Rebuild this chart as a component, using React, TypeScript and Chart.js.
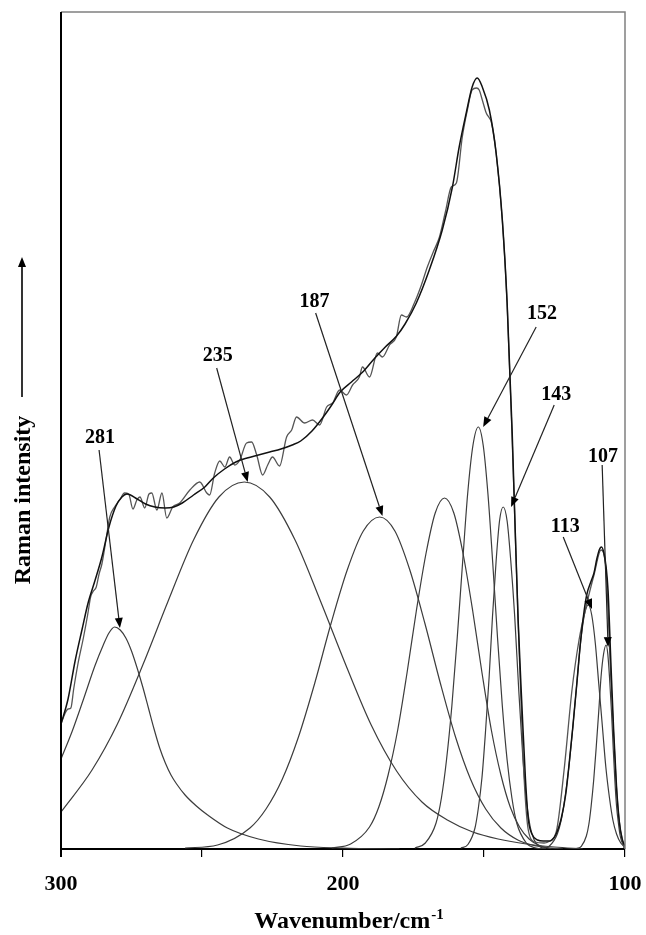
import React, { useEffect, useRef } from 'react';
import { Chart, registerables } from 'chart.js';

Chart.register(...registerables);

// ---- Data (wavenumber in cm-1, intensity in arbitrary units) ----
const SPECTRUM_W = [300, 298.5, 297.5, 296.5, 295.5, 294, 292, 290.5, 289.5, 288.5, 287.5, 286.5, 285.5, 284, 282.7, 281, 279, 277.5, 276,
  274.5, 273.1, 272.0, 270.3, 268.8, 267.8, 266.0, 264.2, 262.5, 260.4, 257.9, 254.3, 250.8, 248.3, 247.3, 245.5, 243.7, 241.9, 240.2,
  238.4, 236.6, 234.2, 232.4, 230.6, 228.5, 226.7, 225.0, 222.5, 220.0, 218.2, 216.5, 213.6, 210.8, 208.3, 205.8, 203.7, 201.2, 198.8,
  196.6, 194.2, 193.1, 190.6, 187.8, 186.0, 183.5, 181.1, 179.3, 177.5, 174.7, 172.2, 170.1, 168.0, 165.8, 163.7, 161.6, 159.8, 157.7,
  155.9, 154.2, 152.7, 151.7, 150.6, 149.2, 148.1, 147.4, 145.7, 143.5, 141.8, 140.0, 137.9, 136.1, 134.3, 131.9, 128.7, 127.3, 124.4,
  121.6, 118.8, 116.3, 113.5, 111.0, 108.5, 106.7, 105.0, 103.2, 102.1, 100.4];
const SPECTRUM_I = [125, 136, 140, 141, 160, 185, 212, 235, 252, 258, 262, 275, 285, 310, 332, 342, 350, 356, 355,
  340, 349, 352, 341, 355, 356, 339, 356, 331, 342, 346, 359, 367, 356, 354, 376, 388, 382, 392,
  384, 389, 406, 407, 394, 374, 384, 392, 383, 412, 419, 432, 426, 429, 424, 442, 446, 459, 454,
  464, 472, 482, 472, 496, 492, 504, 512, 534, 532, 546, 564, 582, 597, 612, 637, 662, 666, 712,
  739, 759, 761, 759, 749, 736, 731, 727, 696, 629, 546, 409, 229, 89, 19, 7, 6, 7, 17,
  79, 159, 209, 246, 274, 299, 277, 169, 69, 29, 1];

const FIT_W = [300, 297.5, 295, 292.5, 290.4, 288, 285.5, 283, 280.5, 278.4, 276.6, 273, 270, 266.7, 263, 260, 257, 253, 249, 246, 242,
  238, 234, 230, 226, 222, 218, 215, 211, 207, 204, 201, 197, 193, 189, 185, 181, 178, 174, 169.4, 164.8, 161.2, 158.8, 156.3, 154.2,
  152.4, 150.6, 148.1, 145.7, 143.5, 141.8, 140, 138.9, 137.9, 136.5, 135.3, 134.3, 133, 131, 129, 127.3, 126, 124.4, 122.5, 121, 120,
  118.5, 117, 115.75, 114.5, 113.5, 112, 111, 110, 109, 108.3, 107.5, 106.7, 106, 105, 104, 103, 102, 101, 100];
const FIT_I = [125, 150, 188, 220, 246, 268, 292, 322, 343, 352, 355, 350, 345, 342, 341, 342, 346, 354, 362, 371, 380,
  387, 391, 394, 397, 400, 404, 408, 418, 432, 444, 457, 467, 477, 490, 502, 513, 525, 546, 579, 619, 662, 702, 736, 762,
  771, 762, 739, 696, 629, 546, 416, 316, 229, 140, 70, 30, 15, 9, 8, 8, 9, 15, 32, 55, 80,
  122, 168, 208, 238, 255, 268, 276, 290, 300, 302, 296, 282, 258, 186, 117, 62, 27, 10, 3];

const P281_W = [300, 296, 292, 288, 285, 283, 281, 279, 277, 275, 273, 271, 269, 267, 265, 263, 261, 259, 256, 252, 248, 241, 230, 215, 200, 180];
const P281_I = [90, 118, 150, 183, 204, 216, 222, 219, 211, 198, 181, 162, 141, 120, 101, 86, 74, 65, 54, 43, 34, 21, 10, 3, 1, 0];

const P235_W = [300, 289, 280, 271, 262, 253, 244, 235, 226, 217, 208, 199, 190, 181, 172, 163, 154, 145, 135, 125, 115];
const P235_I = [37, 79, 125, 184, 248, 309, 352, 367, 352, 309, 248, 184, 124, 78, 47, 29, 17, 10, 5, 2, 0];

const P187_W = [256, 244.5, 233, 227.3, 221.5, 215.8, 210, 204.3, 198.5, 192.8, 187, 181.6, 176.3, 170.9, 165.5, 160.1, 154.8, 149.4, 144, 138, 133, 128, 122];
const P187_I = [1, 4, 21, 40, 70, 112, 166, 225, 279, 318, 332, 318, 279, 225, 166, 112, 70, 40, 21, 9, 4, 1.5, 0];

const P165_W = [204, 197.3, 190.6, 187.3, 184, 180.6, 177.3, 174, 170.6, 167.3, 164, 160.7, 157.4, 154, 150.7, 147.4, 144, 140.7, 137.4, 134, 130.7, 126];
const P165_I = [1, 5, 22, 42, 74, 119, 176, 238, 295, 336, 351, 336, 295, 238, 176, 119, 74, 42, 22, 10, 4, 0];

const P152_W = [174.5, 170.8, 167, 165.1, 163.3, 161.4, 159.5, 157.6, 155.8, 153.9, 152, 150.3, 148.6, 146.9, 145.2, 143.5, 141.8, 140.1, 138.4, 135, 131.6, 128];
const P152_I = [1, 6, 26, 51, 89, 143, 211, 286, 355, 404, 422, 404, 355, 286, 211, 143, 89, 51, 26, 6, 1, 0];

const P143_W = [158.2, 155.7, 153.2, 152, 150.7, 149.5, 148.2, 147, 145.7, 144.5, 143.2, 141.8, 140.5, 139.1, 137.7, 136.3, 135, 133.6, 132.2, 130, 128];
const P143_I = [1, 4.5, 21, 41, 72, 116, 171, 232, 288, 328, 342, 328, 288, 232, 160, 95, 50, 22, 9, 2, 0];

const P113_W = [129.5, 126.8, 124, 122.6, 121.3, 119.9, 118.5, 117.1, 115.8, 114.4, 113, 111.8, 110.5, 109.3, 108, 106.8, 105.5, 104.3, 103, 101.5, 100];
const P113_I = [0.5, 3, 15, 29, 51, 82, 122, 165, 205, 234, 244, 234, 205, 165, 122, 82, 51, 29, 15, 6, 2];

const P107_W = [117.2, 115.5, 113.7, 112.8, 112, 111.1, 110.2, 109.3, 108.5, 107.6, 106.7, 106.1, 105.5, 104.8, 104.2, 103.6, 103, 102.3, 101.7, 100.5, 100];
const P107_I = [0.4, 2.7, 13, 25, 43, 69, 102, 138, 172, 195, 204, 195, 172, 138, 102, 69, 43, 25, 13, 3, 1];

const X_TICK_LABELS = [300, 200, 100];

// Peak annotations (anchors in data coordinates)
const ANNOT_LABELS = ['281', '235', '187', '152', '143', '113', '107'];
const ANNOT_TEXT_W = [286.2, 244.4, 210.1, 129.4, 124.4, 121.2, 107.8];
const ANNOT_TEXT_I = [411, 493, 547, 535, 454, 322, 392];
const ANNOT_FROM_W = [286.5, 244.8, 209.7, 131.5, 125.1, 121.9, 108.1];
const ANNOT_FROM_I = [399, 481, 536, 522, 444, 312, 384];
const ANNOT_TIP_W = [279.1, 233.8, 186.0, 150.3, 140.4, 111.7, 106.0];
const ANNOT_TIP_I = [221, 367, 333, 422, 342, 240, 202];

const X_TITLE = 'Wavenumber/cm';
const X_TITLE_SUP = '-1';
const Y_TITLE = 'Raman intensity';

const SERIF = '"Liberation Serif", "Times New Roman", serif';

function xy(ws: number[], is: number[]) {
  return ws.map((w, i) => ({ x: w, y: is[i] }));
}

function arrow(ctx: CanvasRenderingContext2D, sx: number, sy: number, ex: number, ey: number) {
  const ang = Math.atan2(ey - sy, ex - sx);
  const hl = 10, hw = 4;
  const bx = ex - hl * Math.cos(ang), by = ey - hl * Math.sin(ang);
  ctx.beginPath();
  ctx.moveTo(sx, sy);
  ctx.lineTo(bx, by);
  ctx.stroke();
  ctx.beginPath();
  ctx.moveTo(ex, ey);
  ctx.lineTo(bx + hw * Math.sin(ang), by - hw * Math.cos(ang));
  ctx.lineTo(bx - hw * Math.sin(ang), by + hw * Math.cos(ang));
  ctx.closePath();
  ctx.fill();
}

const decorPlugin = {
  id: 'decor',
  afterDraw(chart: any) {
    const { ctx, chartArea: a, scales } = chart;
    const xs = scales.x, ys = scales.y;
    ctx.save();
    // frame: top and right grey
    ctx.strokeStyle = '#808080';
    ctx.lineWidth = 1.5;
    ctx.beginPath();
    ctx.moveTo(a.left, a.top);
    ctx.lineTo(a.right, a.top);
    ctx.lineTo(a.right, a.bottom);
    ctx.stroke();
    // left axis black
    ctx.strokeStyle = '#000';
    ctx.lineWidth = 2;
    ctx.beginPath();
    ctx.moveTo(a.left, a.top);
    ctx.lineTo(a.left, a.bottom + 8);
    ctx.stroke();

    // annotations
    ctx.fillStyle = '#000';
    ctx.strokeStyle = '#222';
    ctx.lineWidth = 1.2;
    ctx.font = `bold 20px ${SERIF}`;
    ctx.textAlign = 'center';
    ctx.textBaseline = 'middle';
    ANNOT_LABELS.forEach((lab, i) => {
      const tx = xs.getPixelForValue(ANNOT_TEXT_W[i]);
      const ty = ys.getPixelForValue(ANNOT_TEXT_I[i]);
      ctx.fillText(lab, tx, ty);
      arrow(ctx,
        xs.getPixelForValue(ANNOT_FROM_W[i]), ys.getPixelForValue(ANNOT_FROM_I[i]),
        xs.getPixelForValue(ANNOT_TIP_W[i]), ys.getPixelForValue(ANNOT_TIP_I[i]));
    });

    // x title with superscript
    ctx.textAlign = 'left';
    ctx.textBaseline = 'alphabetic';
    ctx.font = `bold 24px ${SERIF}`;
    const mainW = ctx.measureText(X_TITLE).width;
    ctx.font = `bold 15px ${SERIF}`;
    const supW = ctx.measureText(X_TITLE_SUP).width;
    const cx = (a.left + a.right) / 2 + 6;
    const x0 = cx - (mainW + supW + 1) / 2;
    const base = 928;
    ctx.font = `bold 24px ${SERIF}`;
    ctx.fillText(X_TITLE, x0, base);
    ctx.font = `bold 15px ${SERIF}`;
    ctx.fillText(X_TITLE_SUP, x0 + mainW + 1, base - 9);

    // y title rotated
    ctx.save();
    ctx.translate(29.5, 500);
    ctx.rotate(-Math.PI / 2);
    ctx.font = `bold 24px ${SERIF}`;
    ctx.textAlign = 'center';
    ctx.fillText(Y_TITLE, 0, 0);
    ctx.restore();

    // y-title arrow
    ctx.strokeStyle = '#000';
    ctx.fillStyle = '#000';
    ctx.lineWidth = 1.6;
    arrow(ctx, 22, 397, 22, 257);

    ctx.restore();
  },
};

export default function App() {
  const ref = useRef<HTMLCanvasElement | null>(null);

  useEffect(() => {
    if (!ref.current) return;
    const comp = (ws: number[], is: number[]) => ({
      data: xy(ws, is),
      borderColor: '#3c3c3c',
      borderWidth: 1.2,
      pointRadius: 0,
      fill: false,
      cubicInterpolationMode: 'monotone' as const,
    });
    const chart = new Chart(ref.current, {
      type: 'line',
      data: {
        datasets: [
          {
            data: xy(FIT_W, FIT_I),
            borderColor: '#111',
            borderWidth: 1.5,
            pointRadius: 0,
            fill: false,
            cubicInterpolationMode: 'monotone',
          },
          {
            data: xy(SPECTRUM_W, SPECTRUM_I),
            borderColor: '#555',
            borderWidth: 1.3,
            pointRadius: 0,
            fill: false,
            cubicInterpolationMode: 'monotone',
          },
          comp(P281_W, P281_I),
          comp(P235_W, P235_I),
          comp(P187_W, P187_I),
          comp(P165_W, P165_I),
          comp(P152_W, P152_I),
          comp(P143_W, P143_I),
          comp(P113_W, P113_I),
          comp(P107_W, P107_I),
        ],
      },
      options: {
        animation: false,
        responsive: false,
        devicePixelRatio: 1,
        layout: { padding: { left: 61, right: 21, top: 12, bottom: 0 } },
        plugins: { legend: { display: false }, tooltip: { enabled: false } },
        scales: {
          x: {
            type: 'linear',
            reverse: true,
            min: 100,
            max: 300,
            afterFit: (s: any) => { s.height = 86; s.paddingLeft = 0; s.paddingRight = 0; },
            border: { display: true, color: '#000', width: 2 },
            grid: { drawOnChartArea: false, drawTicks: true, tickLength: 8, color: '#000', lineWidth: 1.2 },
            ticks: {
              stepSize: 50,
              padding: 14,
              color: '#000',
              maxRotation: 0,
              autoSkip: false,
              font: { family: SERIF, size: 22, weight: 'bold' },
              callback: (v: any) => (X_TICK_LABELS.includes(Number(v)) ? String(v) : ''),
            },
          },
          y: {
            display: false,
            min: 0,
            max: 837,
          },
        },
      },
      plugins: [decorPlugin],
    } as any);
    return () => chart.destroy();
  }, []);

  return (
    <div style={{ position: 'absolute', left: 0, top: 0, width: 646, height: 935, background: '#fff' }}>
      <canvas ref={ref} width={646} height={935} style={{ display: 'block' }} />
    </div>
  );
}
